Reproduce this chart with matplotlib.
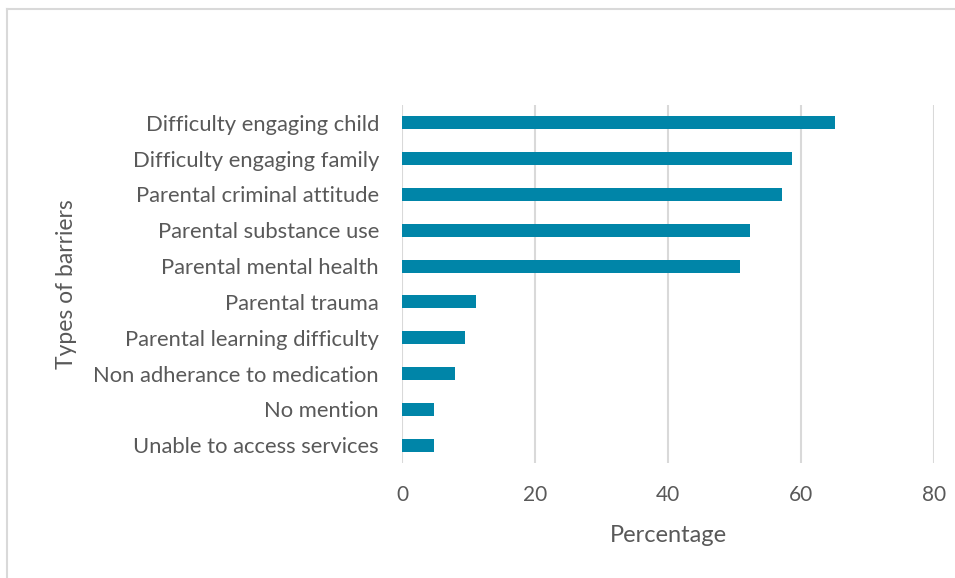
import matplotlib
matplotlib.use("Agg")
import matplotlib.pyplot as plt
from matplotlib.lines import Line2D

categories = [
    "Difficulty engaging child",
    "Difficulty engaging family",
    "Parental criminal attitude",
    "Parental substance use",
    "Parental mental health",
    "Parental trauma",
    "Parental learning difficulty",
    "Non adherance to medication",
    "No mention",
    "Unable to access services",
]
values = [65.1, 58.7, 57.1, 52.4, 50.8, 11.1, 9.5, 7.9, 4.8, 4.8]
xticks = [0, 20, 40, 60, 80]

plt.rcParams['font.family'] = ['Lato', 'DejaVu Sans']
W, H = 955, 578
fig = plt.figure(figsize=(W / 100, H / 100), dpi=100)
fig.patch.set_facecolor('white')
# outer frame: only top and left edges visible
fig.add_artist(Line2D([6.5 / W, 6.5 / W], [0, 1 - 8.8 / H], transform=fig.transFigure,
                      color='#d9d9d9', linewidth=1.5))
fig.add_artist(Line2D([6.5 / W, 1], [1 - 8.8 / H, 1 - 8.8 / H], transform=fig.transFigure,
                      color='#d9d9d9', linewidth=1.5))

left, right, top, bottom = 402, 934, 105, 463
ax = fig.add_axes([left / W, 1 - bottom / H, (right - left) / W, (bottom - top) / H])

y = list(range(len(categories)))
ax.barh(y, values, height=0.36, color='#0085A8')
ax.set_ylim(len(categories) - 0.5, -0.5)
ax.set_xlim(0, 80)
ax.set_xticks(xticks)
ax.set_yticks(y)
ax.set_yticklabels(categories)
ax.grid(axis='x', color='#d9d9d9', linewidth=1.5)
ax.set_axisbelow(True)
for s in ax.spines.values():
    s.set_visible(False)
ax.tick_params(axis='both', length=0, colors='#595959')
ax.tick_params(axis='y', labelsize=15.8, pad=16.5)
ax.tick_params(axis='x', labelsize=15, pad=16)
ax.set_xlabel('Percentage', fontsize=17, color='#595959', labelpad=14)
ax.set_ylabel('Types of barriers', fontsize=16.5, color='#595959', labelpad=12)

fig.savefig('out.png', dpi=100)
